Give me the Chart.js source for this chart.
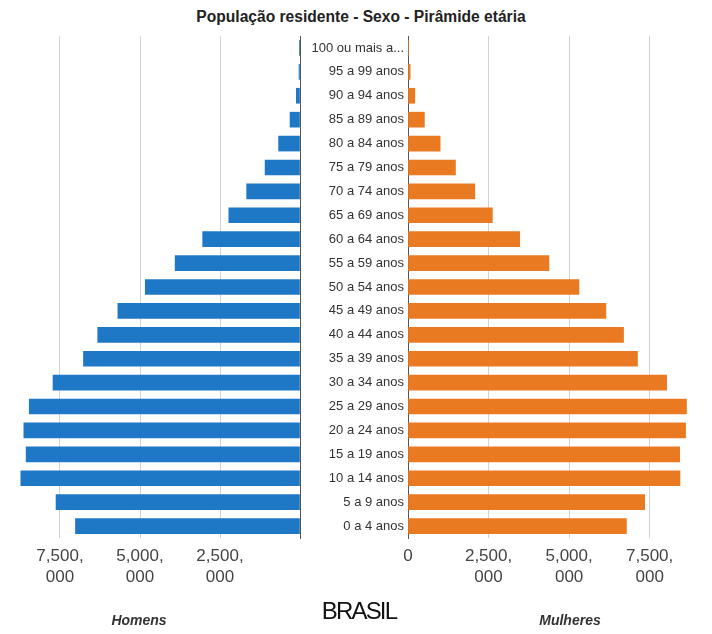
<!DOCTYPE html>
<html lang="pt-BR">
<head>
<meta charset="utf-8">
<title>População residente - Sexo - Pirâmide etária</title>
<script src="https://cdn.jsdelivr.net/npm/chart.js@4/dist/chart.umd.min.js"></script>
<style>
  html, body { margin: 0; padding: 0; background: #fff; }
  body { width: 712px; height: 634px; position: relative; overflow: hidden;
         font-family: "Liberation Sans", Arial, Helvetica, sans-serif; }
  #title { position: absolute; left: 0; width: 712px; top: 8px; text-align: center;
           font-weight: bold; font-size: 15.6px; color: #222; padding-left: 10px; box-sizing: border-box; }
  .pane { position: absolute; top: 0; }
  #left { left: 0; width: 302px; height: 598px; }
  #right { left: 302px; width: 410px; height: 598px; }
  .side { position: absolute; top: 612px; font-style: italic; font-weight: bold;
          font-size: 14px; color: #333; transform: translateX(-50%); }
  #brasil { position: absolute; top: 597px; left: 359px; transform: translateX(-50%);
            font-size: 24px; letter-spacing: -1.8px; color: #111; }
</style>
</head>
<body>
<div id="title">População residente - Sexo - Pirâmide etária</div>
<div class="pane" id="left"><canvas id="homens" width="302" height="598"></canvas></div>
<div class="pane" id="right"><canvas id="mulheres" width="410" height="598"></canvas></div>
<div id="brasil">BRASIL</div>
<div class="side" style="left:139px">Homens</div>
<div class="side" style="left:570px">Mulheres</div>
<script>
// Age groups, oldest at the top
const ageGroups = [
  "100 ou mais a...", "95 a 99 anos", "90 a 94 anos", "85 a 89 anos", "80 a 84 anos",
  "75 a 79 anos", "70 a 74 anos", "65 a 69 anos", "60 a 64 anos", "55 a 59 anos",
  "50 a 54 anos", "45 a 49 anos", "40 a 44 anos", "35 a 39 anos", "30 a 34 anos",
  "25 a 29 anos", "20 a 24 anos", "15 a 19 anos", "10 a 14 anos", "5 a 9 anos", "0 a 4 anos"
];

// Resident population by age group (persons)
const homens = [
  7000, 32000, 115000, 311000, 669000,
  1091000, 1667000, 2224000, 3041000, 3902000,
  4835000, 5692000, 6321000, 6767000, 7718000,
  8461000, 8630000, 8559000, 8725000, 7624000, 7017000
];
const mulheres = [
  17000, 67000, 212000, 509000, 998000,
  1473000, 2074000, 2617000, 3468000, 4374000,
  5305000, 6141000, 6689000, 7122000, 8027000,
  8643000, 8615000, 8432000, 8441000, 7345000, 6779000
];

// Population axis
const tickValues = [0, 2500000, 5000000, 7500000];
const tickLabels = ["0", ["2,500,", "000"], ["5,000,", "000"], ["7,500,", "000"]];
const axisMax = 9000000;

const BLUE = "#1f78c6";
const ORANGE = "#ea7a22";
const GRID = "#d2d2d2";
const AXIS_LINE = "#555";
const FONT = "'Liberation Sans', Arial, Helvetica, sans-serif";

Chart.defaults.font.family = FONT;
Chart.defaults.devicePixelRatio = 1;

function xAxis(reverse, showZero) {
  return {
    type: "linear",
    reverse: reverse,
    min: 0,
    max: axisMax,
    afterBuildTicks: s => { s.ticks = tickValues.map(v => ({ value: v })); },
    afterFit: s => { s.height = 60; },
    grid: { color: GRID, lineWidth: 1, drawTicks: false },
    border: { display: false },
    ticks: {
      padding: 8,
      color: "#444",
      font: { size: 17, lineHeight: 1.24 },
      maxRotation: 0,
      autoSkip: false,
      callback: (value) => {
        const i = tickValues.indexOf(value);
        if (i < 0) return "";
        if (i === 0 && !showZero) return "";
        return tickLabels[i];
      }
    }
  };
}

const common = {
  indexAxis: "y",
  responsive: false,
  animation: false,
  events: [],
  plugins: { legend: { display: false }, tooltip: { enabled: false }, title: { display: false } }
};

new Chart(document.getElementById("homens"), {
  type: "bar",
  data: {
    labels: ageGroups,
    datasets: [{ label: "Homens", data: homens, backgroundColor: BLUE, barThickness: 15 }]
  },
  options: Object.assign({}, common, {
    layout: { padding: { top: 36, left: 12, right: 2, bottom: 0 } },
    scales: {
      x: xAxis(true, false),
      y: {
        position: "right",
        afterFit: s => { s.width = 0; },
        grid: { display: false, drawTicks: false },
        border: { display: true, color: AXIS_LINE, width: 1 },
        ticks: { display: false }
      }
    }
  })
});

new Chart(document.getElementById("mulheres"), {
  type: "bar",
  data: {
    labels: ageGroups,
    datasets: [{ label: "Mulheres", data: mulheres, backgroundColor: ORANGE, barThickness: 15 }]
  },
  options: Object.assign({}, common, {
    layout: { padding: { top: 36, left: 0, right: 14, bottom: 0 } },
    scales: {
      x: xAxis(false, true),
      y: {
        position: "left",
        afterFit: s => { s.width = 106; },
        grid: { display: false, drawTicks: false, tickLength: 0 },
        border: { display: true, color: AXIS_LINE, width: 1 },
        ticks: { padding: 4, color: "#333", font: { size: 13 }, autoSkip: false }
      }
    }
  })
});
</script>
</body>
</html>
